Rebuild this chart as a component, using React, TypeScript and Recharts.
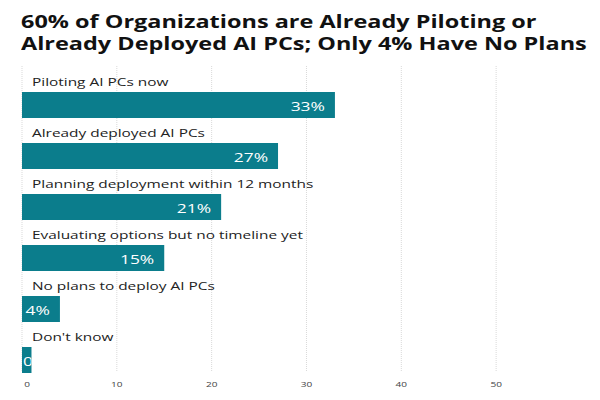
import React from "react";
import { BarChart, Bar, XAxis, YAxis, CartesianGrid, LabelList } from "recharts";

const categories = [
  "Piloting AI PCs now",
  "Already deployed AI PCs",
  "Planning deployment within 12 months",
  "Evaluating options but no timeline yet",
  "No plans to deploy AI PCs",
  "Don't know",
];
const values = [33, 27, 21, 15, 4, 1];
const valueLabels = ["33%", "27%", "21%", "15%", "4%", "0%"];
const xTicks = [0, 10, 20, 30, 40, 50];

const data = categories.map((c, i) => ({
  name: c,
  spacer: 0,
  value: values[i],
  label: valueLabels[i],
}));

const FONT = "'Open Sans', 'Noto Sans', sans-serif";
const BAR_COLOR = "#0b7d8c";
const SX = 1.34;

const CategoryLabel = (props: any) => {
  const { x, y, index } = props;
  return (
    <text
      transform={`translate(${x + 10} ${y - 6}) scale(${SX} 1)`}
      fontSize={11.5}
      fontFamily={FONT}
      fill="#222"
    >
      {categories[index]}
    </text>
  );
};

const ValueLabel = (props: any) => {
  const { x, y, width, height, index } = props;
  const txt = valueLabels[index];
  const base = y + height / 2 + 5.5;
  if (width < 30) {
    const id = `clip-${index}`;
    return (
      <g>
        <defs>
          <clipPath id={id}>
            <rect x={x} y={y} width={width} height={height} />
          </clipPath>
        </defs>
        <g clipPath={`url(#${id})`}>
          <text
            transform={`translate(${x + 1} ${base}) scale(${SX} 1)`}
            textAnchor="start"
            fontSize={13}
            fontFamily={FONT}
            fill="#fff"
          >
            {txt}
          </text>
        </g>
      </g>
    );
  }
  return (
    <text
      transform={`translate(${x + width - 10} ${base}) scale(${SX} 1)`}
      textAnchor="end"
      fontSize={13}
      fontFamily={FONT}
      fill="#fff"
    >
      {txt}
    </text>
  );
};

const XTick = (props: any) => {
  const { x, y, payload, index } = props;
  const dx = index === 0 ? 5 : 0;
  return (
    <text
      transform={`translate(${x + dx} ${y + 7.5}) scale(${SX} 1)`}
      textAnchor="middle"
      fontSize={7.5}
      fontFamily={FONT}
      fill="#444"
    >
      {payload.value}
    </text>
  );
};

const gridX = (p: any) => {
  const s = p && p.xAxis && p.xAxis.scale;
  if (typeof s === "function") {
    return xTicks.map((t) => s(t));
  }
  const off = p.offset;
  return xTicks.map((t) => off.left + (t / 58) * off.width);
};

export default function App() {
  return (
    <div style={{ position: "absolute", left: 0, top: 0, width: 600, height: 400, background: "#fff" }}>
      <div
        style={{
          position: "absolute",
          left: 21,
          top: 10,
          fontFamily: FONT,
          fontWeight: 700,
          fontSize: 17.5,
          lineHeight: "22px",
          color: "#111",
          whiteSpace: "nowrap",
          transform: `scaleX(${SX})`,
          transformOrigin: "0 0",
        }}
      >
        60% of Organizations are Already Piloting or
        <br />
        Already Deployed AI PCs; Only 4% Have No Plans
      </div>
      <BarChart
        width={600}
        height={400}
        data={data}
        layout="vertical"
        margin={{ top: 66, right: 28, bottom: 12, left: 22 }}
        barCategoryGap={0}
        barGap={0}
      >
        <CartesianGrid
          horizontal={false}
          stroke="#d9d9d9"
          strokeDasharray="1 1"
          verticalCoordinatesGenerator={gridX}
        />
        <XAxis
          type="number"
          domain={[0, 58]}
          ticks={xTicks}
          axisLine={false}
          tickLine={false}
          tickSize={0}
          tickMargin={7}
          height={16}
          tick={XTick}
        />
        <YAxis type="category" dataKey="name" hide />
        <Bar dataKey="spacer" fill="transparent" isAnimationActive={false} />
        <Bar dataKey="value" fill={BAR_COLOR} isAnimationActive={false}>
          <LabelList dataKey="name" content={CategoryLabel} />
          <LabelList dataKey="label" content={ValueLabel} />
        </Bar>
      </BarChart>
    </div>
  );
}
